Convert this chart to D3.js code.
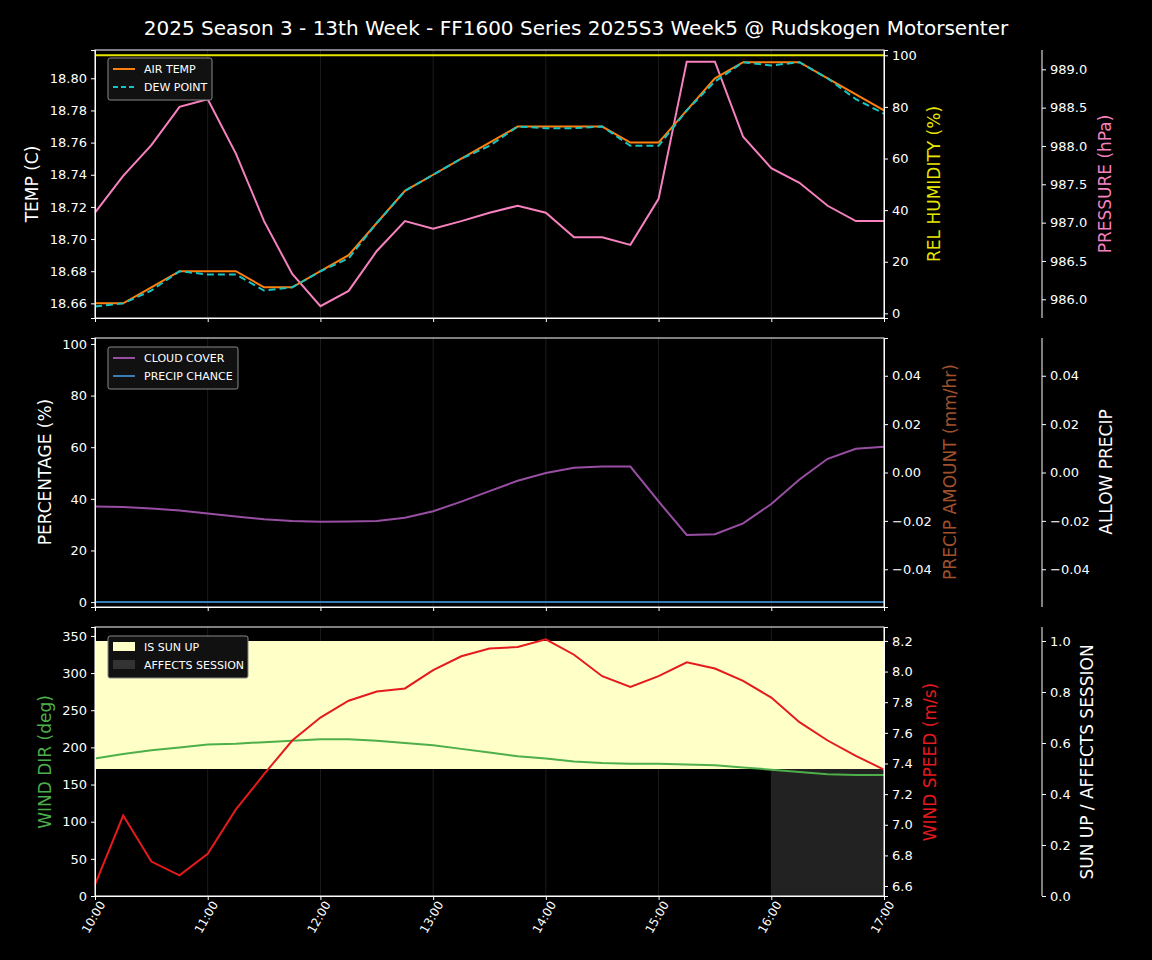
<!DOCTYPE html>
<html><head><meta charset="utf-8">
<script src="https://cdn.jsdelivr.net/npm/d3@7"></script>
<style>body{margin:0;background:#000}text{font-family:"DejaVu Sans",sans-serif}</style>
</head><body><svg id="chart"></svg>
<script>
var times = d3.range(29).map(function(i){return new Date(2025,0,1,10,i*15)});
var xTicks = ["10:00","11:00","12:00","13:00","14:00","15:00","16:00","17:00"];
var airTemp = [18.66,18.66,18.67,18.68,18.68,18.68,18.67,18.67,18.68,18.69,18.71,18.73,18.74,18.75,18.76,18.77,18.77,18.77,18.77,18.76,18.76,18.78,18.80,18.81,18.81,18.81,18.80,18.79,18.78];
var dewPoint = [18.658,18.66,18.668,18.68,18.678,18.678,18.668,18.67,18.68,18.688,18.71,18.73,18.74,18.75,18.758,18.77,18.769,18.769,18.77,18.758,18.758,18.78,18.798,18.81,18.808,18.81,18.80,18.787,18.778];
var humidity = d3.range(29).map(function(){return 100});
var pressure = [987.13,987.61,988.01,988.51,988.61,987.90,987.02,986.33,985.91,986.11,986.63,987.02,986.92,987.02,987.13,987.22,987.13,986.81,986.81,986.71,987.31,989.10,989.10,988.12,987.71,987.52,987.22,987.02,987.02];
var cloudCover = [37,36.8,36.3,35.5,34.3,33.2,32.1,31.4,31.1,31.2,31.4,32.7,35.2,38.9,43,47,50,52,52.5,52.5,39,26,26.3,30.5,38,47.5,55.5,59.4,60.2];
var precipChance = d3.range(29).map(function(){return 0});
var windDir = [185,191,196,200,204,205,207,209,211,211,209,206,203,198,193,188,185,181,179,178,178,177,176,173,170,167,164,163,163];
var windSpeed = [6.61,7.06,6.76,6.67,6.81,7.10,7.33,7.55,7.70,7.81,7.87,7.89,8.01,8.10,8.15,8.16,8.21,8.11,7.97,7.90,7.97,8.06,8.02,7.94,7.83,7.67,7.55,7.45,7.36];
var sunUp = d3.range(29).map(function(){return 1});
var affects = d3.range(29).map(function(i){return i>=24?1:0});

var W = 1152, H = 960, L = 95, R = 884, R3 = 1042;
var svg = d3.select("#chart").attr("width",W).attr("height",H).style("background","#000");
var x = d3.scaleTime().domain([times[0],times[28]]).range([L,R]);

svg.append("text").attr("x",576).attr("y",35).attr("text-anchor","middle")
  .attr("fill","#fff").style("font-size","20px")
  .text("2025 Season 3 - 13th Week - FF1600 Series 2025S3 Week5 @ Rudskogen Motorsenter");

function panel(top,bottom){
  var g = svg.append("g");
  g.selectAll("line.grid").data(d3.range(10,18)).enter().append("line")
    .attr("x1",function(h){return x(new Date(2025,0,1,h))}).attr("x2",function(h){return x(new Date(2025,0,1,h))})
    .attr("y1",top).attr("y2",bottom).attr("stroke","#333").attr("stroke-width",0.8).attr("opacity",0.7);
  return g;
}
function frame(g,top,bottom){
  g.append("rect").attr("x",L).attr("y",top).attr("width",R-L).attr("height",bottom-top)
    .attr("fill","none").attr("stroke","#fff").attr("stroke-width",1);
}
function axis(gen,xpos,scale,fmt,ticks){
  var a = svg.append("g").attr("transform","translate("+xpos+",0)")
    .call(gen(scale).tickValues(ticks).tickFormat(d3.format(fmt)).tickSize(4).tickPadding(4));
  a.selectAll("text").attr("fill","#fff").style("font-size","13px");
  a.selectAll("line,path").attr("stroke","#fff");
  return a;
}
function ylabel(xpos,ymid,txt,col){
  svg.append("text").attr("transform","translate("+xpos+","+ymid+") rotate(-90)")
    .attr("text-anchor","middle").attr("fill",col).style("font-size","17px").text(txt);
}
function line(g,data,y,col,dash,w){
  g.append("path").datum(data).attr("fill","none").attr("stroke",col).attr("stroke-width",w||2)
    .attr("stroke-dasharray",dash||null)
    .attr("d",d3.line().x(function(d,i){return x(times[i])}).y(function(d){return y(d)}));
}
function legend(items,top,w){
  var g = svg.append("g").attr("transform","translate(108,"+top+")");
  g.append("rect").attr("width",w).attr("height",items.length*18+6).attr("rx",2)
    .attr("fill","#111").attr("stroke","#888");
  items.forEach(function(it,i){
    var yy = 11+i*18;
    if(it.box) g.append("rect").attr("x",5).attr("y",yy-5).attr("width",22).attr("height",9).attr("fill",it.c);
    else g.append("line").attr("x1",5).attr("x2",27).attr("y1",yy).attr("y2",yy).attr("stroke",it.c)
      .attr("stroke-width",2).attr("stroke-dasharray",it.d||null);
    g.append("text").attr("x",36).attr("y",yy+4).attr("fill","#fff").style("font-size","11px").text(it.t);
  });
}

// Panel 1
var t1 = 50, b1 = 318;
var yT = d3.scaleLinear().domain([18.6509,18.8176]).range([b1,t1]);
var yH = d3.scaleLinear().domain([-1.8,102.05]).range([b1,t1]);
var yP = d3.scaleLinear().domain([985.756,989.252]).range([b1,t1]);
var g1 = panel(t1,b1);
line(g1,humidity,yH,"#e6e600");
line(g1,pressure,yP,"#f781bf");
line(g1,airTemp,yT,"#ff7f0e");
line(g1,dewPoint,yT,"#17c3c3","7,4");
frame(g1,t1,b1);
axis(d3.axisLeft,L,yT,".2f",d3.range(18.66,18.801,0.02));
axis(d3.axisRight,R,yH,"d",[0,20,40,60,80,100]);
axis(d3.axisRight,R3,yP,".1f",[986,986.5,987,987.5,988,988.5,989]).select(".domain").attr("d","M0,"+t1+"V"+b1);
ylabel(38,184,"TEMP (C)","#fff");
ylabel(940,184,"REL HUMIDITY (%)","#e6e600");
ylabel(1111,184,"PRESSURE (hPa)","#f781bf");
legend([{t:"AIR TEMP",c:"#ff7f0e"},{t:"DEW POINT",c:"#17c3c3",d:"5,3"}],58,104);

// Panel 2
var t2 = 338, b2 = 607;
var yPct = d3.scaleLinear().domain([-1.9,102.3]).range([b2,t2]);
var yA = d3.scaleLinear().domain([-0.0556,0.0556]).range([b2,t2]);
var g2 = panel(t2,b2);
line(g2,cloudCover,yPct,"#984ea3");
line(g2,precipChance,yPct,"#377eb8");
frame(g2,t2,b2);
axis(d3.axisLeft,L,yPct,"d",[0,20,40,60,80,100]);
axis(d3.axisRight,R,yA,".2f",[-0.04,-0.02,0,0.02,0.04]);
axis(d3.axisRight,R3,yA,".2f",[-0.04,-0.02,0,0.02,0.04]).select(".domain").attr("d","M0,"+t2+"V"+b2);
ylabel(51,472,"PERCENTAGE (%)","#fff");
ylabel(956,472,"PRECIP AMOUNT (mm/hr)","#a0522d");
ylabel(1112,472,"ALLOW PRECIP","#fff");
legend([{t:"CLOUD COVER",c:"#984ea3"},{t:"PRECIP CHANCE",c:"#377eb8"}],347,130);

// Panel 3
var t3 = 627, b3 = 896;
var yD = d3.scaleLinear().domain([0,362]).range([b3,t3]);
var yS = d3.scaleLinear().domain([6.535,8.291]).range([b3,t3]);
var yU = d3.scaleLinear().domain([0,1.055]).range([b3,t3]);
var g3 = panel(t3,b3);
var step = x(times[1])-x(times[0]);
g3.selectAll("rect.sun").data(sunUp).enter().append("rect")
  .attr("x",function(d,i){return i==0?x(times[0]):x(times[i])-step/2})
  .attr("width",function(d,i){return (i==0||i==28)?step/2:step})
  .attr("y",function(d){return yU(d)}).attr("height",function(d){return yU(d/2)-yU(d)})
  .attr("fill","#ffffc8").attr("shape-rendering","crispEdges");
g3.selectAll("rect.aff").data(affects).enter().filter(function(d,i){return d>0&&i<28}).append("rect")
  .attr("x",function(d,i){return x(times[24+i])}).attr("width",step)
  .attr("y",yU(0.5)).attr("height",yU(0)-yU(0.5)).attr("fill","#222").attr("shape-rendering","crispEdges");
line(g3,windDir,yD,"#4daf4a");
line(g3,windSpeed,yS,"#e41a1c");
frame(g3,t3,b3);
axis(d3.axisLeft,L,yD,"d",[0,50,100,150,200,250,300,350]);
axis(d3.axisRight,R,yS,".1f",[6.6,6.8,7.0,7.2,7.4,7.6,7.8,8.0,8.2]);
axis(d3.axisRight,R3,yU,".1f",[0,0.2,0.4,0.6,0.8,1.0]).select(".domain").attr("d","M0,"+t3+"V"+b3);
ylabel(51,762,"WIND DIR (deg)","#4daf4a");
ylabel(936,762,"WIND SPEED (m/s)","#e41a1c");
ylabel(1093,762,"SUN UP / AFFECTS SESSION","#fff");
legend([{t:"IS SUN UP",c:"#ffffc8",box:1},{t:"AFFECTS SESSION",c:"#333",box:1}],636,140);

// x axes
[b1,b2].forEach(function(b){
  var a = svg.append("g").attr("transform","translate(0,"+b+")")
    .call(d3.axisBottom(x).ticks(d3.timeHour.every(1)).tickFormat("").tickSize(4));
  a.selectAll("line,path").attr("stroke","#fff");
});
var ax = svg.append("g").attr("transform","translate(0,"+b3+")")
  .call(d3.axisBottom(x).ticks(d3.timeHour.every(1)).tickSize(4).tickFormat(function(d,i){return xTicks[i]}));
ax.selectAll("line,path").attr("stroke","#fff");
ax.selectAll("text").attr("fill","#fff").style("font-size","12px").attr("text-anchor","end")
  .attr("dx","-2").attr("dy","6").attr("transform","rotate(-60)");
</script></body></html>
